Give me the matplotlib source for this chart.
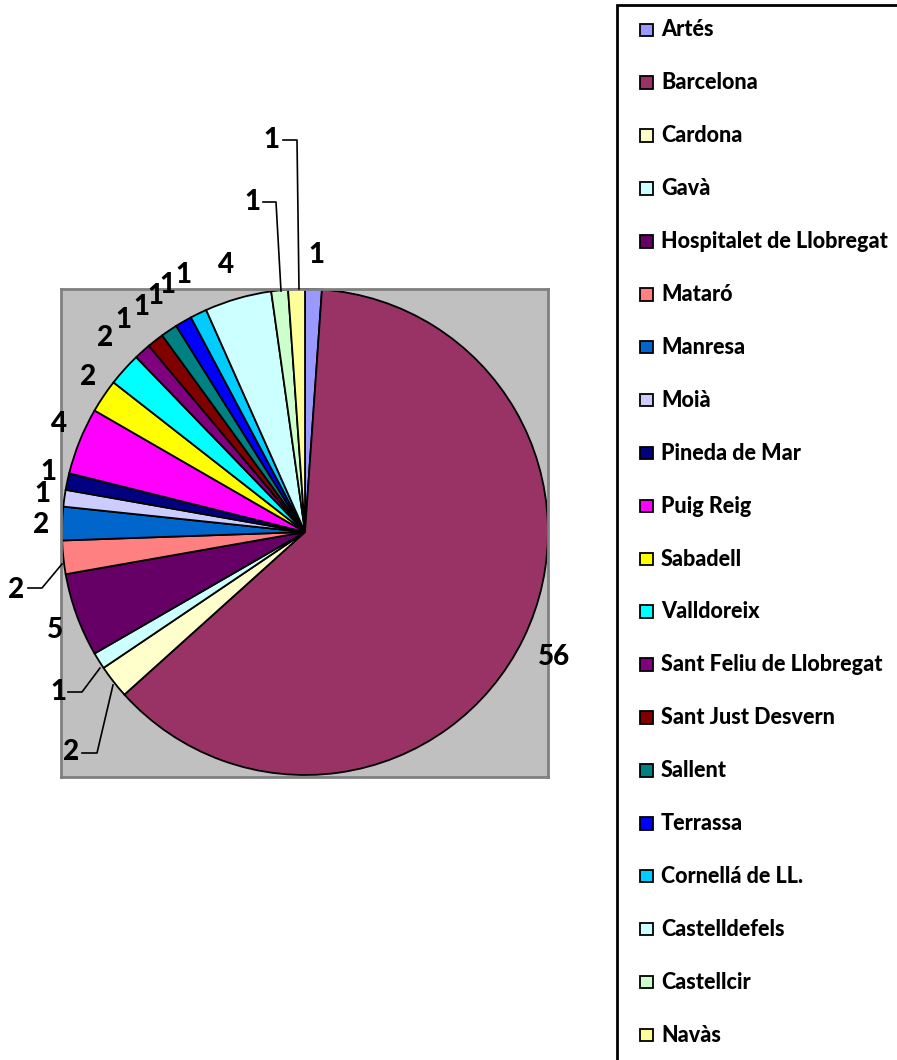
import matplotlib
matplotlib.use("Agg")
import matplotlib.pyplot as plt
from matplotlib.patches import Rectangle

plt.rcParams['font.family'] = ['Lato', 'DejaVu Sans']

cities = ["Artés", "Barcelona", "Cardona", "Gavà", "Hospitalet de Llobregat", "Mataró",
          "Manresa", "Moià", "Pineda de Mar", "Puig Reig", "Sabadell", "Valldoreix",
          "Sant Feliu de Llobregat", "Sant Just Desvern", "Sallent", "Terrassa",
          "Cornellá de LL.", "Castelldefels", "Castellcir", "Navàs"]
counts = [1, 56, 2, 1, 5, 2, 2, 1, 1, 4, 2, 2, 1, 1, 1, 1, 1, 4, 1, 1]
colors = ["#9999FF", "#993366", "#FFFFCC", "#CCFFFF", "#660066", "#FF8080",
          "#0066CC", "#CCCCFF", "#000080", "#FF00FF", "#FFFF00", "#00FFFF",
          "#800080", "#800000", "#008080", "#0000FF", "#00CCFF", "#CCFFFF",
          "#CCFFCC", "#FFFF99"]

W, H = 897, 1060
fig = plt.figure(figsize=(W / 100, H / 100), dpi=100)

# plot area (pixel coords)
pl, pt, pr, pb = 61, 289, 548, 777
ax = fig.add_axes([pl / W, 1 - pb / H, (pr - pl) / W, (pb - pt) / H])
cx, cy, R = 305, 532, 243
ax.pie(counts, colors=colors, startangle=90, counterclock=False,
       center=(cx, H - cy), radius=R, frame=True,
       wedgeprops=dict(edgecolor="black", linewidth=1.3))
ax.set_xlim(pl, pr)
ax.set_ylim(H - pb, H - pt)
ax.set_aspect('auto')
ax.set_xticks([])
ax.set_yticks([])
ax.set_facecolor("#C0C0C0")
for s in ax.spines.values():
    s.set_color("#808080")
    s.set_linewidth(2)

# overlay axes in pixel coordinates
ov = fig.add_axes([0, 0, 1, 1], facecolor="none")
ov.set_xlim(0, W)
ov.set_ylim(H, 0)
ov.axis("off")

# data label positions (pixel coords), in the order of cities
label_pos = [(316, 255), (554, 657), (71, 752), (58, 692), (55, 630), (16, 590),
             (41, 525), (42, 494), (48, 472), (59, 424), (88, 377), (105, 338),
             (123, 320), (141, 307), (155, 296), (167, 285), (183, 275), (226, 265),
             (252, 202), (271, 140)]
for v, (x, y) in zip(counts, label_pos):
    ov.text(x, y, str(v), ha="center", va="center", fontsize=20,
            fontweight="black", color="black")

leaders = [
    [(283, 140), (297, 140), (299, 289)],   # Navàs
    [(263, 202), (276, 202), (281, 291)],   # Castellcir
    [(28, 588), (42, 588), (62, 564)],      # Mataró
    [(68, 692), (82, 692), (100, 668)],     # Gavà
    [(82, 753), (97, 753), (113, 685)],     # Cardona
]
for pts in leaders:
    xs, ys = zip(*pts)
    ov.plot(xs, ys, color="black", lw=1.2)

# legend
ov.add_patch(Rectangle((617, 5), 320, 1100, facecolor="white",
                       edgecolor="black", lw=2, clip_on=False, zorder=0))
y0, step = 30, 52.9
for i, (name, c) in enumerate(zip(cities, colors)):
    y = y0 + i * step
    ov.add_patch(Rectangle((640, y - 6.5), 12.5, 12.5, facecolor=c,
                           edgecolor="black", lw=1.3))
    ov.text(661, y, name, ha="left", va="center", fontsize=15.5,
            fontweight="black", color="black")

fig.savefig("out.png", dpi=100)
